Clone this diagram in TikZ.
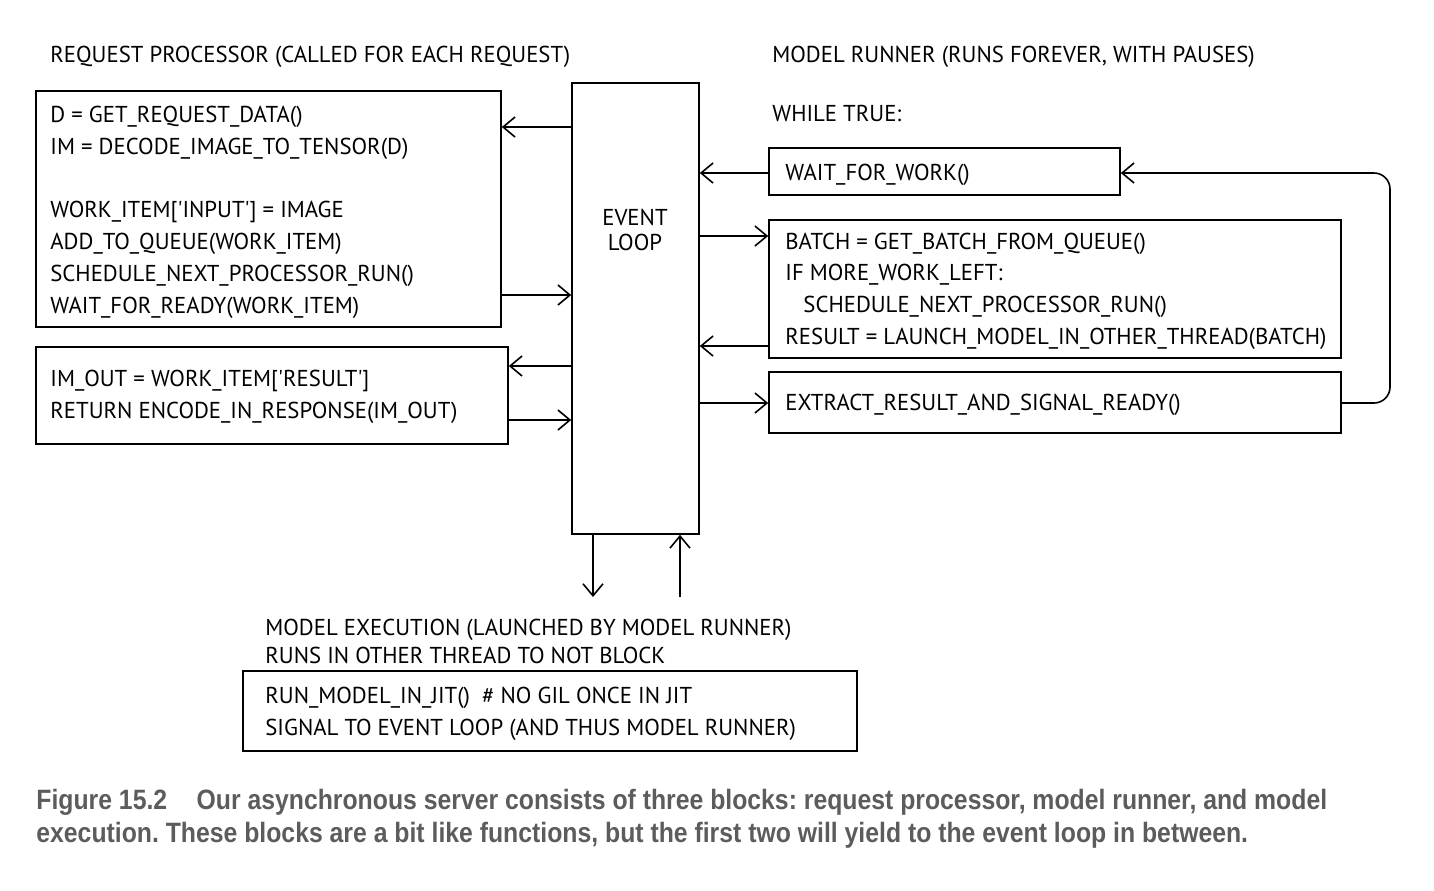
\documentclass[tikz,border=0pt]{standalone}
\usepackage{fontspec}
\usetikzlibrary{arrows.meta,fit}
\newfontfamily\hand{PT Sans}[FakeStretch=0.99]
\newfontfamily\capfont{Liberation Sans}[FakeStretch=0.885]
\definecolor{capgray}{RGB}{92,92,92}
\frenchspacing
\begin{document}
\begin{tikzpicture}[x=0.5pt,y=-0.5pt,
  box/.style={draw, line width=0.8pt, inner sep=0pt},
  txt/.style={anchor=base west, inner sep=0pt, font=\hand\fontsize{11.5}{13}\selectfont},
  ctxt/.style={anchor=base, inner sep=0pt, font=\hand\fontsize{11.5}{13}\selectfont},
  arr/.style={line width=0.8pt, -{Straight Barb[length=6pt,width=10pt,line width=0.8pt]}},
  captext/.style={anchor=base west, inner sep=0pt, font=\capfont\bfseries\fontsize{14}{16}\selectfont, text=capgray}]
\useasboundingbox (0,0) rectangle (1434,890);

% titles
\node[txt] (t1) at (50,62) {REQUEST PROCESSOR (CALLED FOR EACH REQUEST)};
\node[txt] (t2) at (772,62) {MODEL RUNNER (RUNS FOREVER, WITH PAUSES)};
\node[txt] (t3) at (772,121) {WHILE TRUE:};

% boxes
\node[box, fit={(36,91) (501,327)}] (A) {};
\node[box, fit={(36,347) (508,444)}] (B) {};
\node[box, fit={(572,83) (699,534)}] (EL) {};
\node[box, fit={(769,148) (1120,195)}] (W) {};
\node[box, fit={(769,220) (1341,358)}] (C) {};
\node[box, fit={(769,372) (1341,433)}] (D) {};
\node[box, fit={(243,671) (857,751)}] (E) {};

% box A text
\node[txt] (a1) at (50,122) {D = GET\_REQUEST\_DATA()};
\node[txt] (a2) at (50,154) {IM = DECODE\_IMAGE\_TO\_TENSOR(D)};
\node[txt] (a3) at (50,217) {WORK\_ITEM[\textquotesingle INPUT\textquotesingle] = IMAGE};
\node[txt] (a4) at (50,249) {ADD\_TO\_QUEUE(WORK\_ITEM)};
\node[txt] (a5) at (50,281) {SCHEDULE\_NEXT\_PROCESSOR\_RUN()};
\node[txt] (a6) at (50,313) {WAIT\_FOR\_READY(WORK\_ITEM)};

% box B text
\node[txt] (b1) at (50,386) {IM\_OUT = WORK\_ITEM[\textquotesingle RESULT\textquotesingle]};
\node[txt] (b2) at (50,418) {RETURN ENCODE\_IN\_RESPONSE(IM\_OUT)};

% event loop
\node[ctxt] (e1) at (635,225) {EVENT};
\node[ctxt] (e2) at (635,250) {LOOP};

% right side text
\node[txt] (w1) at (785,180) {WAIT\_FOR\_WORK()};
\node[txt] (c1) at (785,249) {BATCH = GET\_BATCH\_FROM\_QUEUE()};
\node[txt] (c2) at (785,280) {IF MORE\_WORK\_LEFT:};
\node[txt] (c3) at (803,312) {SCHEDULE\_NEXT\_PROCESSOR\_RUN()};
\node[txt] (c4) at (785,344) {RESULT = LAUNCH\_MODEL\_IN\_OTHER\_THREAD(BATCH)};
\node[txt] (d1) at (785,410) {EXTRACT\_RESULT\_AND\_SIGNAL\_READY()};

% model execution
\node[txt] (m1) at (265,635) {MODEL EXECUTION (LAUNCHED BY MODEL RUNNER)};
\node[txt] (m2) at (265,663) {RUNS IN OTHER THREAD TO NOT BLOCK};
\node[txt] (m3) at (265,703) {RUN\_MODEL\_IN\_JIT()~~\# NO GIL ONCE IN JIT};
\node[txt] (m4) at (265,735) {SIGNAL TO EVENT LOOP (AND THUS MODEL RUNNER)};

% connectors left
\draw[arr] (EL.west |- 0,127) -- (A.east |- 0,127);
\draw[arr] (A.east |- 0,295) -- (EL.west |- 0,295);
\draw[arr] (EL.west |- 0,366) -- (B.east |- 0,366);
\draw[arr] (B.east |- 0,420) -- (EL.west |- 0,420);

% connectors right
\draw[arr] (W.west |- 0,173) -- (EL.east |- 0,173);
\draw[arr] (EL.east |- 0,236) -- (C.west |- 0,236);
\draw[arr] (C.west |- 0,346) -- (EL.east |- 0,346);
\draw[arr] (EL.east |- 0,403) -- (D.west |- 0,403);
\draw[arr, rounded corners=8pt] (D.east |- 0,403) -- (1390,403) -- (1390,173) -- (W.east |- 0,173);

% bottom connectors
\coordinate (dn) at (593,597);
\coordinate (up) at (680,597);
\draw[arr] (EL.south -| dn) -- (dn);
\draw[arr] (up) -- (EL.south -| up);

% caption
\node[captext] (f1) at (36,809) {Figure 15.2\hspace{1.05em}Our asynchronous server consists of three blocks: request processor, model runner, and model};
\node[captext] (f2) at (36,842) {execution. These blocks are a bit like functions, but the first two will yield to the event loop in between.};
\end{tikzpicture}
\end{document}
